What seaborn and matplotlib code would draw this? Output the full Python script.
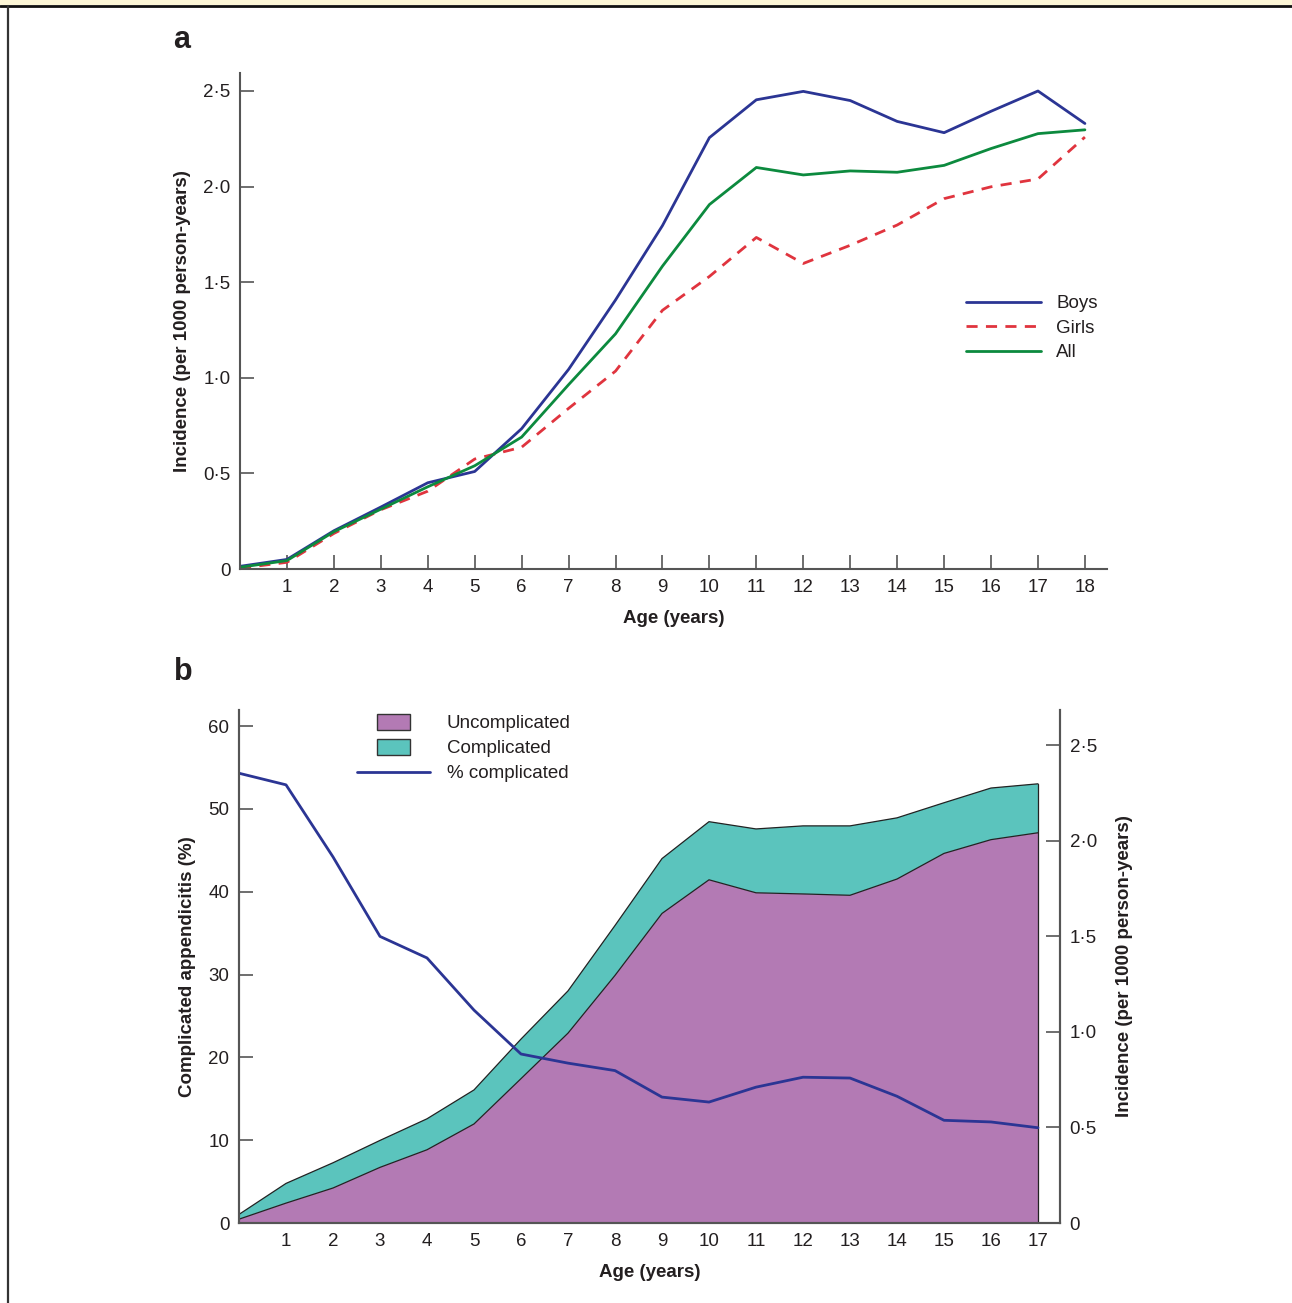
import numpy as np
import pandas as pd
import matplotlib
matplotlib.use("Agg")
import matplotlib.pyplot as plt
import seaborn as sns
from matplotlib.lines import Line2D
from matplotlib.patches import Patch, Rectangle
from matplotlib.legend_handler import HandlerPatch
from matplotlib.ticker import FuncFormatter

# ---------------- data ----------------
ages_a = list(range(0, 19))
boys = [0.014, 0.050, 0.200, 0.324, 0.451, 0.510, 0.734, 1.044, 1.407, 1.796,
        2.256, 2.454, 2.498, 2.450, 2.341, 2.282, 2.394, 2.500, 2.330]
girls = [0.004, 0.035, 0.186, 0.310, 0.407, 0.575, 0.637, 0.840, 1.035, 1.353,
         1.530, 1.734, 1.598, 1.693, 1.799, 1.937, 1.999, 2.040, 2.259]
all_ = [0.009, 0.044, 0.195, 0.313, 0.430, 0.540, 0.690, 0.964, 1.230, 1.584,
        1.906, 2.100, 2.061, 2.082, 2.075, 2.111, 2.199, 2.277, 2.297]

ages_b = list(range(0, 18))
uncomplicated = [0.020, 0.104, 0.183, 0.291, 0.383, 0.518, 0.755, 0.993, 1.295, 1.619,
                 1.795, 1.727, 1.721, 1.714, 1.799, 1.933, 2.005, 2.041]
total = [0.045, 0.207, 0.315, 0.432, 0.545, 0.696, 0.962, 1.214, 1.556, 1.906,
         2.099, 2.061, 2.077, 2.077, 2.119, 2.198, 2.275, 2.297]
pct_complicated = [54.3, 52.9, 44.2, 34.6, 32.0, 25.7, 20.4, 19.3, 18.4, 15.2,
                   14.6, 16.4, 17.6, 17.5, 15.3, 12.4, 12.2, 11.5]

xticks_a = list(range(1, 19))
xticks_b = list(range(1, 18))
yticks_a = [0, 0.5, 1.0, 1.5, 2.0, 2.5]
yticks_b_left = [0, 10, 20, 30, 40, 50, 60]
yticks_b_right = [0, 0.5, 1.0, 1.5, 2.0, 2.5]

# ---------------- style ----------------
sns.set_theme(style="ticks")
plt.rcParams['font.family'] = ['Liberation Sans', 'DejaVu Sans']
TXT = '#231F20'
SPINE = '#555555'
BLUE = '#2B3594'
RED = '#E0343E'
GREEN = '#0C8A3E'
PURPLE = '#B37AB4'
TEAL = '#5BC4BD'
plt.rcParams['text.color'] = TXT
plt.rcParams['axes.labelcolor'] = TXT
plt.rcParams['xtick.color'] = SPINE
plt.rcParams['ytick.color'] = SPINE
plt.rcParams['xtick.labelcolor'] = TXT
plt.rcParams['ytick.labelcolor'] = TXT

W, H = 1292, 1303
fig = plt.figure(figsize=(W / 100, H / 100), dpi=100)

def fmt(v, pos=None):
    if abs(v) < 1e-9:
        return '0'
    return ('%.1f' % v).replace('.', '\u00b7')

TICKFS = 13.5
LABFS = 13.5

# frame decoration
fig.patches.append(Rectangle((0, 1 - 5 / H), 1, 5 / H, transform=fig.transFigure,
                             facecolor='#FCF6D6', edgecolor='none', zorder=0))
fig.lines.append(Line2D([0, 1], [1 - 5.5 / H, 1 - 5.5 / H], transform=fig.transFigure,
                        color='#111111', lw=2.0))
fig.lines.append(Line2D([8 / W, 8 / W], [0, 1 - 5.5 / H], transform=fig.transFigure,
                        color='#333333', lw=1.6))

# ---------------- panel a ----------------
ax = fig.add_axes([240 / W, 1 - 569 / H, (1107 - 240) / W, (569 - 73) / H])
df_a = pd.DataFrame({'age': ages_a * 3,
                     'inc': boys + girls + all_,
                     'grp': ['Boys'] * 19 + ['Girls'] * 19 + ['All'] * 19})
sns.lineplot(data=df_a[df_a.grp == 'Boys'], x='age', y='inc', ax=ax, color=BLUE, lw=2.0)
sns.lineplot(data=df_a[df_a.grp == 'Girls'], x='age', y='inc', ax=ax, color=RED, lw=2.0,
             dashes=False, linestyle=(0, (4, 3)))
sns.lineplot(data=df_a[df_a.grp == 'All'], x='age', y='inc', ax=ax, color=GREEN, lw=2.0)
ax.set_xlim(0, (1107 - 240) / 46.94)
ax.set_ylim(0, (569 - 73) / 191.2)
ax.set_xticks(xticks_a)
ax.set_yticks(yticks_a)
ax.yaxis.set_major_formatter(FuncFormatter(fmt))
ax.tick_params(direction='in', length=10, width=1.2, labelsize=TICKFS, pad=7)
sns.despine(ax=ax)
for s in ['left', 'bottom']:
    ax.spines[s].set_color(SPINE)
    ax.spines[s].set_linewidth(1.5)
ax.set_xlabel('Age (years)', fontsize=LABFS, fontweight='bold', labelpad=10)
ax.set_ylabel('Incidence (per 1000 person-years)', fontsize=LABFS, fontweight='bold', labelpad=9)
handles_a = [Line2D([], [], color=BLUE, lw=2.0),
             Line2D([], [], color=RED, lw=2.0, linestyle=(0, (4, 3))),
             Line2D([], [], color=GREEN, lw=2.0)]
ax.legend(handles_a, ['Boys', 'Girls', 'All'], frameon=False, fontsize=TICKFS,
          handlelength=4.0, handletextpad=0.8, labelspacing=0.4,
          loc='upper left', bbox_to_anchor=((966 - 240) / (1107 - 240), (569 - 295) / (569 - 73)),
          borderaxespad=0, borderpad=0)

# ---------------- panel b ----------------
axb = fig.add_axes([239 / W, 1 - 1223 / H, (1060 - 239) / W, (1223 - 710) / H])
axl = axb.twinx()

axb.fill_between(ages_b, 0, uncomplicated, facecolor=PURPLE, edgecolor='none', zorder=1)
axb.fill_between(ages_b, uncomplicated, total, facecolor=TEAL, edgecolor='none', zorder=1)
axb.plot(ages_b, uncomplicated, color='#222222', lw=0.9, zorder=2)
axb.plot(ages_b, total, color='#222222', lw=0.9, zorder=2)
axb.plot([17, 17], [0, total[-1]], color='#222222', lw=0.9, zorder=2)
axb.set_xlim(0, (1060 - 239) / 47.0)
axb.set_ylim(0, (1223 - 710) / 191.2)
axb.set_xticks(xticks_b)
axb.set_yticks(yticks_b_right)
axb.yaxis.set_major_formatter(FuncFormatter(fmt))
axb.set_axisbelow(True)
axb.set_xlabel('Age (years)', fontsize=LABFS, fontweight='bold', labelpad=10)

df_b = pd.DataFrame({'age': ages_b, 'pct': pct_complicated})
sns.lineplot(data=df_b, x='age', y='pct', ax=axl, color=BLUE, lw=2.0)
axl.set_ylim(0, (1223 - 710) / 8.283)
axl.set_yticks(yticks_b_left)
axl.set_xlabel('')

# incidence axis on the right, percent axis on the left
axb.yaxis.tick_right()
axb.yaxis.set_label_position('right')
axl.yaxis.tick_left()
axl.yaxis.set_label_position('left')
axb.tick_params(direction='in', length=10, width=1.2, labelsize=TICKFS, pad=7)
axl.tick_params(direction='in', length=10, width=1.2, labelsize=TICKFS, pad=7)
axb.set_ylabel('Incidence (per 1000 person-years)', fontsize=LABFS, fontweight='bold', labelpad=14)
axl.set_ylabel('Complicated appendicitis (%)', fontsize=LABFS, fontweight='bold', labelpad=9)
for a in (axb, axl):
    a.spines['top'].set_visible(False)
    for s in ['left', 'bottom', 'right']:
        a.spines[s].set_color(SPINE)
        a.spines[s].set_linewidth(1.5)

class SmallPatch(HandlerPatch):
    def __init__(self, w_frac=0.45, **kw):
        super().__init__(**kw)
        self.w_frac = w_frac
    def create_artists(self, legend, orig_handle, xdescent, ydescent, width, height,
                       fontsize, trans):
        w = width * self.w_frac
        p = Rectangle((-xdescent + (width - w) / 2, -ydescent - 1), w, height + 2,
                      facecolor=orig_handle.get_facecolor(),
                      edgecolor=orig_handle.get_edgecolor(), lw=1.0)
        self.update_prop(p, orig_handle, legend)
        p.set_transform(trans)
        return [p]

h_unc = Patch(facecolor=PURPLE, edgecolor='#333333', lw=1.0)
h_com = Patch(facecolor=TEAL, edgecolor='#333333', lw=1.0)
h_pct = Line2D([], [], color=BLUE, lw=2.0)
axl.legend([h_unc, h_com, h_pct], ['Uncomplicated', 'Complicated', '% complicated'],
           handler_map={Patch: SmallPatch(w_frac=0.45)},
           frameon=False, fontsize=TICKFS, handlelength=3.9, handletextpad=0.9,
           labelspacing=0.42, loc='upper left',
           bbox_to_anchor=((357 - 239) / (1060 - 239), (1223 - 715) / (1223 - 710)),
           borderaxespad=0, borderpad=0)

fig.text(182 / W, 1 - 40 / H, 'a', fontsize=22, fontweight='bold', ha='center', va='center')
fig.text(183 / W, 1 - 672 / H, 'b', fontsize=22, fontweight='bold', ha='center', va='center')

fig.savefig('out.png', dpi=100)
